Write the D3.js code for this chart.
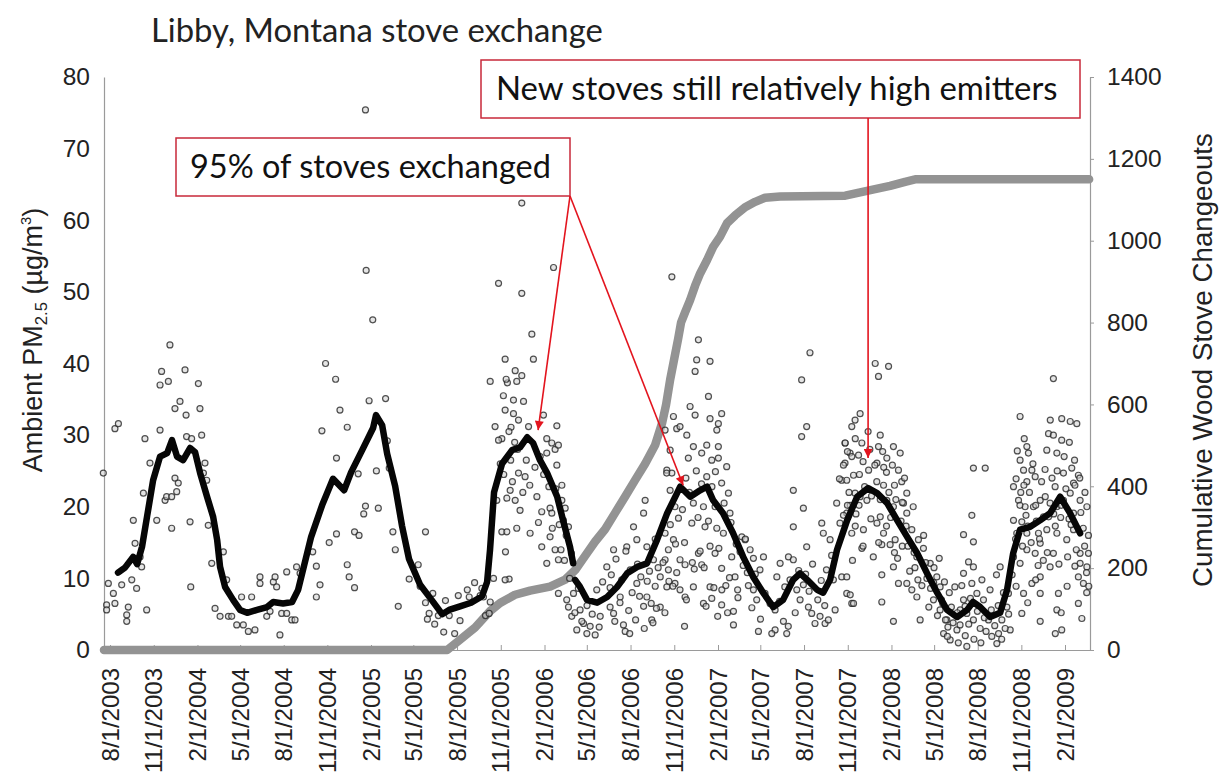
<!DOCTYPE html>
<html><head><meta charset="utf-8">
<script src="https://cdn.jsdelivr.net/npm/d3@7"></script>
<style>body{margin:0;background:#fff;} svg{display:block;}</style>
</head><body>
<svg id="chart" width="1220" height="778"></svg>
<script>
// ---------------- DATA ----------------
const chartTitle = "Libby, Montana stove exchange";
const leftAxisTitle = ["Ambient PM", "2.5", " (µg/m", "3", ")"];
const rightAxisTitle = "Cumulative Wood Stove Changeouts";
const leftTicks = [0,10,20,30,40,50,60,70,80];
const rightTicks = [0,200,400,600,800,1000,1200,1400];
const dateTickLabels = ["8/1/2003","11/1/2003","2/1/2004","5/1/2004","8/1/2004","11/1/2004",
  "2/1/2005","5/1/2005","8/1/2005","11/1/2005","2/1/2006","5/1/2006","8/1/2006","11/1/2006",
  "2/1/2007","5/1/2007","8/1/2007","11/1/2007","2/1/2008","5/1/2008","8/1/2008","11/1/2008","2/1/2009"];
const timeDomain = [2003.546, 2009.229]; // decimal years
const annotation1 = "95% of stoves exchanged";
const annotation2 = "New stoves still relatively high emitters";
// arrow targets [decimal year, PM2.5]
const arrowTargets1 = [[2006.048, 30.7], [2006.884, 23.0]];
const arrowTargets2 = [[2007.950, 26.8]];

// daily PM2.5 observations [decimal year, µg/m3]
const pmDaily = [
[2003.542,24.7],[2003.609,30.9],[2003.629,31.6],[2003.561,6.3],[2003.561,5.6],[2003.571,9.3],[2003.600,7.9],[2003.609,6.5],[2003.648,9.1],[2003.677,4.9],[2003.677,4.0],[2003.686,6.0],[2003.706,9.8],[2003.734,8.6],[2003.715,18.1],[2003.725,14.9],[2003.754,13.0],[2003.763,11.6],[2003.773,21.9],[2003.792,5.6],[2003.782,29.5],[2003.811,26.1],[2003.850,18.1],[2003.869,30.7],[2003.869,37.0],[2003.878,38.9],[2003.917,37.5],[2003.926,42.6],[2003.936,17.0],[2003.898,20.9],[2003.907,21.4],[2003.936,21.4],[2003.965,22.1],[2003.955,24.0],[2003.974,23.3],[2003.984,34.7],[2003.955,33.7],[2004.013,39.1],[2004.019,32.8],[2004.022,29.8],[2004.042,17.9],[2004.051,29.5],[2004.046,8.8],[2004.090,37.2],[2004.099,33.7],[2004.109,30.0],[2004.128,26.1],[2004.119,24.7],[2004.138,23.7],[2004.147,17.4],[2004.167,12.1],[2004.186,5.8],[2004.215,4.7],[2004.234,13.7],[2004.253,9.8],[2004.263,4.7],[2004.282,4.7],[2004.311,3.5],[2004.339,7.4],[2004.349,3.5],[2004.378,2.6],[2004.397,7.4],[2004.416,2.8],[2004.445,10.2],[2004.445,9.3],[2004.484,4.7],[2004.503,5.4],[2004.522,9.5],[2004.532,10.2],[2004.541,8.8],[2004.560,2.1],[2004.570,5.1],[2004.599,10.9],[2004.599,5.1],[2004.628,4.2],[2004.656,11.6],[2004.647,4.2],[2004.676,10.7],
[2005.053,75.4],[2005.057,53.0],[2005.095,46.1],[2004.823,40.0],[2004.881,37.8],[2004.906,33.5],[2004.802,30.6],[2004.948,31.1],[2005.074,34.8],[2005.169,35.1],[2004.886,26.8],[2005.011,24.6],[2005.116,25.0],[2005.053,20.1],[2005.043,19.0],[2005.127,19.8],[2004.886,16.2],[2004.844,15.0],[2004.990,16.5],[2005.016,16.0],[2005.179,29.2],[2005.190,25.4],[2005.211,16.5],[2005.225,14.0],[2004.749,13.7],[2004.770,11.7],[2004.791,9.1],[2004.770,7.4],[2004.948,11.9],[2004.959,10.2],[2004.990,8.7],[2005.242,6.1],[2005.399,16.5],[2005.305,9.9],[2005.357,11.9],[2005.368,8.9],[2005.399,6.6],[2005.420,5.1],[2005.441,7.9],[2005.410,4.3],[2005.452,3.6],[2005.473,4.8],[2005.504,2.5],[2005.514,6.9],[2005.536,4.8],[2005.567,2.3],[2005.588,7.6],[2005.640,8.4],[2005.651,7.4],[2005.682,9.4],[2005.714,7.6],[2005.724,8.6],[2005.745,4.8],[2005.766,5.1],[2005.598,4.1],[2005.871,37.3],[2005.892,31.1],[2005.913,29.0],[2005.860,13.7],[2005.881,9.9],
[2005.954,62.4],[2005.820,51.2],[2005.954,49.8],[2006.137,53.4],[2006.012,44.1],[2006.021,40.6],[2005.858,40.6],[2005.772,37.5],[2005.864,37.8],[2005.916,39.0],[2005.925,37.5],[2005.954,38.3],[2005.848,35.5],[2005.906,34.9],[2005.964,34.7],[2005.858,33.5],[2005.906,33.0],[2005.935,32.1],[2005.993,31.2],[2005.800,31.2],[2006.079,32.8],[2006.156,31.3],[2005.839,29.5],[2006.098,29.5],[2006.127,28.9],[2006.146,28.0],[2006.165,28.6],[2006.098,27.5],[2006.156,25.8],[2006.060,27.0],[2005.820,29.3],[2005.935,24.7],[2005.973,24.2],[2006.185,23.0],[2005.810,20.9],[2005.868,21.2],[2005.916,20.9],[2005.887,22.3],[2005.944,19.5],[2006.041,21.4],[2006.069,19.3],[2006.117,19.8],[2006.127,19.1],[2006.185,20.9],[2006.204,19.8],[2006.194,18.1],[2006.223,17.2],[2005.839,16.5],[2005.868,16.5],[2005.925,17.0],[2006.002,16.3],[2006.069,14.4],[2006.117,15.8],[2006.146,14.0],[2006.165,12.6],[2006.098,12.1],[2006.165,7.9],[2005.791,10.0],[2005.858,9.8],[2005.733,7.4],[2005.772,6.7],[2006.213,7.0],[2006.223,6.0],[2006.242,4.7],[2006.271,2.8],[2006.310,3.7],[2006.329,2.3],[2006.348,3.3],[2006.377,2.1],[2006.406,4.7],[2006.290,5.6],[2006.252,7.9],[2006.444,11.6],[2006.483,14.0],[2006.559,14.4],[2006.598,17.2],[2006.656,19.1],[2006.665,20.9],[2006.617,9.3],[2006.675,7.4],[2006.703,4.2],[2006.550,2.6],[2006.521,7.4],[2006.463,6.0],[2006.386,8.4],[2006.483,5.1],[2006.579,11.2],[2006.752,10.2],[2006.752,6.0],[2006.790,8.8],[2006.780,12.6],[2006.809,22.3],[2006.819,24.7],[2006.790,25.1],[2006.819,52.1],[2006.847,30.9],[2006.828,15.4],[2006.713,12.6],[2006.675,14.4],[2006.617,15.4],
[2006.972,43.3],[2007.039,40.3],[2006.962,40.5],[2006.953,38.9],[2007.030,35.4],[2006.924,34.0],[2006.828,32.6],[2006.780,30.7],[2006.866,31.2],[2006.953,32.8],[2007.039,32.3],[2007.106,33.0],[2007.087,31.6],[2007.078,30.7],[2006.905,30.0],[2006.943,28.4],[2007.020,28.6],[2007.087,28.4],[2006.991,27.5],[2007.049,26.5],[2007.087,26.8],[2006.789,24.7],[2006.809,27.9],[2006.914,26.8],[2007.135,25.6],[2007.020,24.2],[2007.106,23.3],[2007.145,21.9],[2007.154,19.1],[2007.068,20.0],[2007.001,20.0],[2006.943,20.5],[2006.837,20.0],[2006.857,18.4],[2006.934,17.7],[2007.010,17.2],[2007.078,17.0],[2007.116,16.3],[2007.222,15.8],[2007.241,15.4],[2006.780,16.3],[2006.799,14.0],[2006.866,12.6],[2006.895,11.9],[2006.972,13.5],[2006.991,11.9],[2007.068,13.5],[2007.106,11.4],[2007.164,13.0],[2007.212,13.7],[2007.270,14.0],[2007.289,12.8],[2007.347,13.0],[2007.327,11.2],[2007.183,10.2],[2006.799,11.2],[2006.837,9.3],[2006.866,8.4],[2006.943,8.8],[2007.039,8.8],[2006.895,7.4],[2007.049,7.2],[2007.001,6.5],[2007.106,6.3],[2007.174,5.4],[2007.174,3.5],[2007.289,8.4],[2007.308,7.0],[2007.356,7.9],[2007.385,6.5],[2007.414,5.6],[2007.414,2.8],[2007.395,2.3],[2007.462,4.0],[2007.481,2.3],[2007.318,2.6],[2007.443,12.1],[2007.424,10.2],[2007.491,13.0],[2007.500,9.8],[2007.519,22.3],[2007.567,37.7],[2007.615,41.5],[2007.567,29.8],[2007.596,31.2],[2007.577,19.8],[2007.519,17.2],[2007.596,14.4],[2007.519,12.6],[2007.539,8.4],[2007.558,7.0],[2007.577,9.1],[2007.606,6.0],[2007.625,5.1],[2007.644,3.7],[2007.673,4.7],[2007.702,3.7],[2007.721,4.2],[2007.683,17.7],[2007.692,16.3],[2007.731,15.4],[2007.750,9.8],[2007.798,10.2],[2007.827,7.9],[2007.856,6.5],[2007.769,20.5],[2007.798,23.7],[2007.817,26.1],[2007.846,27.5],[2007.856,31.2],[2007.817,28.9],[2007.788,17.7],[2007.827,19.1],[2007.875,21.9],
[2007.991,40.0],[2008.010,38.2],[2008.068,39.6],[2007.904,33.0],[2007.875,32.1],[2007.818,28.9],[2007.914,28.9],[2008.020,30.0],[2007.895,27.2],[2007.856,27.0],[2007.808,25.8],[2008.010,28.4],[2008.096,28.4],[2008.135,27.5],[2008.058,26.8],[2008.001,26.1],[2007.953,25.1],[2007.866,24.4],[2007.827,23.7],[2008.125,25.1],[2008.144,23.5],[2008.039,23.0],[2007.943,20.9],[2007.904,21.4],[2007.847,20.2],[2007.808,18.8],[2008.058,20.9],[2008.173,21.9],[2008.154,20.5],[2008.096,20.0],[2008.020,18.6],[2008.001,17.7],[2007.923,16.8],[2007.856,16.3],[2008.173,19.1],[2008.202,16.8],[2008.039,16.3],[2008.077,14.7],[2008.029,14.7],[2008.106,15.4],[2007.914,14.2],[2008.240,15.4],[2008.269,14.2],[2008.231,13.0],[2008.308,12.1],[2008.096,11.6],[2008.029,10.5],[2008.125,9.3],[2007.827,10.2],[2007.847,7.7],[2007.866,6.5],[2008.029,6.7],[2008.173,9.3],[2008.202,8.4],[2008.231,7.4],[2008.289,10.0],[2008.346,10.2],[2008.365,8.8],[2008.327,7.0],[2008.250,4.2],[2008.096,4.0],[2008.365,5.6],[2008.404,4.2],[2008.385,2.3],[2008.423,1.4],[2008.462,2.8],[2008.481,5.6],[2008.500,7.0],[2008.519,5.1],[2008.557,25.4],[2008.625,25.4],[2008.548,18.8],[2008.500,16.1],[2008.557,15.1],[2008.529,12.3],[2008.557,11.6],[2008.500,10.7],[2008.548,9.3],[2008.577,7.9],[2008.606,9.8],[2008.615,7.0],[2008.557,4.2],[2008.596,3.0],[2008.519,0.5],[2008.644,4.2],[2008.663,1.9],[2008.692,0.9],[2008.702,2.3],[2008.653,8.4],[2008.711,11.6],[2008.750,6.0],[2008.721,4.2],[2008.769,2.8],[2008.759,7.9],[2008.788,13.0],[2008.826,32.6],[2008.865,28.4],[2008.874,27.5],[2008.826,26.5],[2008.846,25.1],[2008.894,25.1],[2008.865,23.5],[2008.913,24.2],[2008.788,22.8],[2008.817,20.9],[2008.855,20.0],[2008.903,20.0],[2008.788,18.1],[2008.836,17.9],[2008.807,16.3],[2008.865,16.3],[2008.942,20.9],[2008.961,18.6],[2008.932,16.3],[2008.971,21.4],[2008.942,14.9],[2008.913,13.5],[2008.865,14.0],[2008.826,12.1],[2008.942,10.2],[2008.894,9.3],[2008.942,7.9],[2008.846,7.9],[2008.836,5.1],[2008.942,4.0],[2008.980,27.9],[2008.990,30.2],[2009.018,30.0],[2009.000,32.1],[2009.018,37.9],[2009.066,32.3],[2009.115,31.9],[2009.153,31.6],[2009.066,29.3],[2009.038,27.5],[2009.124,25.4],[2009.162,24.4],[2009.134,23.3],[2009.076,24.7],[2009.028,22.8],[2008.999,20.5],[2009.038,20.0],[2009.076,20.9],[2009.115,21.9],[2009.134,19.1],[2009.172,20.9],[2009.211,20.0],[2008.980,16.8],[2009.038,16.3],[2009.095,15.4],[2009.134,16.8],[2009.018,13.5],[2008.999,11.6],[2009.047,7.9],[2009.038,5.6],[2009.066,2.8],[2009.172,13.5],[2009.172,12.1],[2009.162,10.2],[2009.191,9.3],[2009.162,6.5],[2009.182,4.4],[2009.211,11.6],[2009.220,13.5],
[2006.554,13.8],[2006.497,12.7],[2006.463,8.7],[2006.520,6.6],[2006.576,2.3],[2006.633,7.5],[2006.677,9.6],[2006.723,8.9],[2006.656,6.1],[2006.710,3.8],[2006.621,12.0],[2006.723,15.5],[2006.768,12.2],[2006.779,5.2],[2006.802,9.6],[2006.847,10.8],[2006.903,7.0],[2006.948,11.3],[2007.005,11.5],[2007.016,6.1],[2007.061,8.7],[2007.107,8.4],[2007.151,10.1],[2007.140,5.2],[2007.198,8.4],[2007.243,15.5],[2007.254,10.8],[2006.937,12.2],[2006.982,13.8],[2006.892,15.0],[2007.039,14.5],[2006.825,8.9],[2007.083,4.7],[2006.892,3.3],
[2007.831,27.7],[2007.876,29.5],[2007.921,26.3],[2007.989,25.8],[2008.034,27.7],[2008.056,24.8],[2008.102,23.0],[2008.147,20.6],[2007.898,20.2],[2007.966,18.3],[2008.056,17.3],[2007.876,17.3],[2007.831,20.2],[2007.785,23.9],[2008.169,17.3],[2008.147,14.5],[2008.102,13.6],[2008.011,15.0],[2007.921,14.5],[2008.215,13.6],[2008.282,12.2],[2008.237,9.8],[2008.328,9.4],[2008.373,7.0],[2008.418,8.0],[2008.464,5.2],[2008.396,4.2],[2008.509,6.1],[2008.407,1.9],
[2008.803,23.9],[2008.848,23.0],[2008.825,20.2],[2008.870,17.3],[2008.916,20.2],[2008.938,15.5],[2008.983,13.6],[2009.029,17.3],[2009.063,20.2],[2009.108,18.3],[2009.142,23.0],[2009.176,19.2],[2009.198,14.5],[2009.209,10.8],[2009.222,8.9],[2009.142,11.7],[2009.097,8.9],[2009.063,5.2],[2008.916,9.8],[2008.870,6.6],[2008.803,8.9],[2009.029,2.3],
[2006.47,10.5],[2006.49,4.0],[2006.53,9.8],[2006.54,3.5],[2006.57,5.5],[2006.59,8.0],[2006.61,4.2],[2006.64,10.2],[2006.66,3.0],[2006.69,11.0],[2006.70,6.5],[2006.73,5.8],[2006.74,11.5],[2006.42,9.5],[2006.40,3.2],[2006.36,5.0],[2006.33,6.2],[2006.30,4.0],[2006.28,8.6],[2006.26,5.2],
[2006.81,17.5],[2006.84,14.8],[2006.87,22.5],[2006.88,19.6],[2006.90,24.0],[2006.92,22.0],[2006.96,25.0],[2006.97,18.5],[2006.99,23.2],[2007.03,18.0],[2007.05,22.8],[2007.07,24.9],[2007.09,14.2],[2007.12,20.5],[2007.13,9.0],[2007.16,17.8],[2007.19,14.8],[2007.20,7.3],[2007.23,11.8],[2007.26,9.0],[2007.28,5.9],[2007.30,10.6],[2007.33,4.3],
[2007.44,6.8],[2007.47,8.8],[2007.49,3.3],[2007.53,5.2],[2007.55,11.1],[2007.59,10.6],[2007.61,8.2],[2007.63,12.0],[2007.66,7.0],[2007.68,9.7],[2007.70,6.2],[2007.71,11.2],[2007.74,13.2],[2007.76,5.6],
[2007.84,22.0],[2007.86,12.5],[2007.88,19.0],[2007.90,24.5],[2007.93,22.8],[2007.95,30.5],[2007.96,28.0],[2007.97,21.5],[2007.98,13.0],[2008.00,23.5],[2008.02,21.0],[2008.04,25.5],[2008.07,22.0],[2008.08,18.5],[2008.09,25.8],[2008.11,21.0],[2008.12,12.8],[2008.14,18.0],[2008.16,24.0],[2008.18,14.5],[2008.19,11.0],[2008.21,20.0],[2008.22,11.5],[2008.26,9.0],[2008.27,16.0],[2008.30,6.0],[2008.31,8.6],[2008.33,11.5],[2008.35,4.8],[2008.36,12.8],[2008.38,6.5],[2008.39,9.5],[2008.41,3.2],[2008.43,6.0],[2008.44,3.8],[2008.45,8.8],[2008.47,1.0],[2008.48,3.5],[2008.49,9.0],[2008.51,2.0],[2008.53,3.6],[2008.54,7.2],[2008.56,1.5],[2008.58,5.4],[2008.60,1.0],[2008.62,4.5],[2008.63,2.6],[2008.66,5.6],[2008.68,3.4],[2008.69,10.5],[2008.70,6.2],[2008.72,1.5],[2008.73,8.0],[2008.74,3.0],[2008.76,5.0],[2008.78,10.5],
[2008.80,15.5],[2008.81,27.8],[2008.83,22.0],[2008.84,14.5],[2008.85,29.5],[2008.86,18.8],[2008.88,22.0],[2008.89,15.0],[2008.90,26.0],[2008.92,18.0],[2008.93,11.8],[2008.95,23.5],[2008.96,12.5],[2008.97,25.2],[2008.99,18.6],[2009.01,24.0],[2009.02,19.0],[2009.04,25.0],[2009.05,12.0],[2009.06,18.5],[2009.08,27.0],[2009.09,22.5],[2009.10,13.0],[2009.11,29.0],[2009.12,17.5],[2009.14,26.5],[2009.15,14.0],[2009.17,24.0],[2009.19,17.0],[2009.20,22.0],[2009.21,8.0],[2009.22,16.0],
[2005.83,26.0],[2005.85,24.5],[2005.88,30.5],[2005.89,26.5],[2005.90,23.5],[2005.93,28.0],[2005.96,22.0],[2005.98,26.5],[2006.00,23.0],[2006.03,25.5],[2006.05,17.8],[2006.08,24.5],[2006.11,22.8],[2006.13,17.0],[2006.15,22.5],[2006.17,17.5],[2006.18,14.0],[2006.20,12.5],[2006.21,16.0],[2006.23,10.0],[2006.24,13.5]
];

// running mean of PM2.5 (two segments, gap between) [decimal year, µg/m3]
const pmMeanSeg1 = [[2003.627,10.8],[2003.667,11.5],[2003.714,13.0],[2003.737,12.0],[2003.765,14.4],[2003.794,18.6],[2003.829,23.7],[2003.869,27.0],[2003.910,27.5],[2003.938,29.3],[2003.967,27.0],[2004.002,26.5],[2004.042,28.2],[2004.071,27.6],[2004.100,24.7],[2004.140,21.4],[2004.175,18.6],[2004.198,15.4],[2004.215,11.6],[2004.244,8.8],[2004.290,7.0],[2004.330,5.6],[2004.371,5.2],[2004.428,5.6],[2004.486,6.0],[2004.521,6.7],[2004.578,6.5],[2004.630,6.7],[2004.665,8.4],[2004.740,15.8],[2004.803,20.2],[2004.866,23.9],[2004.930,22.3],[2004.970,24.8],[2005.034,27.9],[2005.097,31.0],[2005.114,32.8],[2005.149,31.4],[2005.178,27.4],[2005.224,22.9],[2005.264,17.3],[2005.304,12.7],[2005.368,9.1],[2005.431,7.1],[2005.495,5.0],[2005.535,5.6],[2005.598,6.1],[2005.662,6.6],[2005.725,7.5],[2005.754,9.5],[2005.771,14.0],[2005.794,22.0],[2005.840,26.0],[2005.898,27.9],[2005.944,28.3],[2005.985,29.7],[2006.019,28.9],[2006.059,26.5],[2006.100,24.7],[2006.158,21.4],[2006.192,18.1],[2006.232,14.4],[2006.250,12.1]];
const pmMeanSeg2 = [[2006.261,9.8],[2006.290,8.8],[2006.330,7.0],[2006.388,6.6],[2006.446,7.4],[2006.503,8.8],[2006.561,10.7],[2006.619,11.6],[2006.676,12.1],[2006.734,15.4],[2006.792,19.1],[2006.849,21.9],[2006.867,22.8],[2006.925,21.4],[2006.982,22.3],[2007.022,22.8],[2007.057,20.9],[2007.114,19.1],[2007.172,16.3],[2007.230,13.0],[2007.288,10.2],[2007.345,8.0],[2007.403,6.0],[2007.460,7.0],[2007.518,9.8],[2007.558,10.7],[2007.599,9.8],[2007.656,8.4],[2007.691,8.0],[2007.731,9.8],[2007.771,14.0],[2007.829,18.1],[2007.887,21.4],[2007.950,22.6],[2008.002,21.9],[2008.060,20.5],[2008.118,18.1],[2008.175,15.8],[2008.233,13.5],[2008.290,10.7],[2008.348,8.0],[2008.405,5.6],[2008.463,4.6],[2008.521,5.6],[2008.555,6.7],[2008.596,6.0],[2008.653,4.6],[2008.711,5.2],[2008.751,8.4],[2008.786,13.5],[2008.826,16.8],[2008.884,17.2],[2008.941,18.1],[2008.999,19.1],[2009.057,21.4],[2009.114,19.1],[2009.172,16.3]];

// cumulative wood stove changeouts [decimal year, count]
const changeouts = [[2003.546,0],[2005.524,0],[2005.598,25],[2005.685,55],[2005.771,95],[2005.829,115],[2005.915,135],[2006.002,145],[2006.117,155],[2006.204,172],[2006.261,195],[2006.319,230],[2006.377,265],[2006.434,295],[2006.492,335],[2006.550,375],[2006.607,415],[2006.665,455],[2006.722,500],[2006.763,555],[2006.786,600],[2006.809,660],[2006.832,710],[2006.855,760],[2006.872,800],[2006.895,825],[2006.924,855],[2006.953,890],[2006.982,920],[2007.022,953],[2007.057,985],[2007.097,1010],[2007.137,1043],[2007.184,1062],[2007.241,1082],[2007.299,1095],[2007.356,1105],[2007.443,1108],[2007.818,1110],[2007.904,1118],[2007.990,1126],[2008.077,1134],[2008.163,1144],[2008.221,1150],[2009.224,1150]];

// ---------------- CHART ----------------
const svg = d3.select("#chart");
const M = {left:104, right:1090, top:77, bottom:650};
const x = d3.scaleLinear().domain(timeDomain).range([M.left, M.right]);
const yL = d3.scaleLinear().domain([0,80]).range([M.bottom, M.top]);
const yR = d3.scaleLinear().domain([0,1400]).range([M.bottom, M.top]);
const AX = "Liberation Sans, Arial, Helvetica, sans-serif";
const TXT = "Lato, 'Open Sans', sans-serif";

function decYear(s){
  const [m,d,y] = s.split("/").map(Number);
  const start = Date.UTC(y,0,1), end = Date.UTC(y+1,0,1);
  return y + (Date.UTC(y,m-1,d)-start)/(end-start);
}
const tickYears = dateTickLabels.map(decYear);

// axes
const gL = svg.append("g").attr("transform",`translate(${M.left},0)`)
  .call(d3.axisLeft(yL).tickValues(leftTicks).tickSize(0).tickPadding(14));
const gR = svg.append("g").attr("transform",`translate(${M.right},0)`)
  .call(d3.axisRight(yR).tickValues(rightTicks).tickFormat(d3.format("d"))
    .tickSizeInner(4).tickSizeOuter(0).tickPadding(13));
const gB = svg.append("g").attr("transform",`translate(0,${M.bottom})`)
  .call(d3.axisBottom(x).tickValues(tickYears).tickSizeInner(-5).tickSizeOuter(0).tickFormat(""));
[gL,gR,gB].forEach(g=>{
  g.select(".domain").attr("stroke","#9a9a9a").attr("stroke-width",1.2);
  g.selectAll(".tick line").attr("stroke","#9a9a9a");
  g.selectAll("text").attr("font-family",AX).attr("font-size",24.5).attr("fill","#222");
});
gB.selectAll("text").remove();
svg.append("g").selectAll("text").data(dateTickLabels).join("text")
  .attr("transform",(d,i)=>`translate(${x(tickYears[i])},668) rotate(-90)`)
  .attr("text-anchor","end").attr("dy","0.36em")
  .attr("font-family",AX).attr("font-size",24).attr("fill","#222")
  .text(d=>d);

// cumulative changeouts (gray)
svg.append("path").datum(changeouts)
  .attr("d", d3.line().x(d=>x(d[0])).y(d=>yR(d[1])))
  .attr("fill","none").attr("stroke","#939393").attr("stroke-width",8.5)
  .attr("stroke-linecap","round").attr("stroke-linejoin","round");

// daily points
svg.append("g").selectAll("circle").data(pmDaily).join("circle")
  .attr("cx",d=>x(d[0])).attr("cy",d=>yL(d[1])).attr("r",3)
  .attr("fill","#cfcfcf").attr("fill-opacity",0.55)
  .attr("stroke","#262626").attr("stroke-opacity",0.8).attr("stroke-width",1.2);

// running mean (black)
const meanLine = d3.line().x(d=>x(d[0])).y(d=>yL(d[1]));
svg.append("g").selectAll("path").data([pmMeanSeg1, pmMeanSeg2]).join("path")
  .attr("d", meanLine).attr("fill","none").attr("stroke","#060606")
  .attr("stroke-width",6.5).attr("stroke-linejoin","round").attr("stroke-linecap","round");

// fit helper
function fit(sel, w){
  const len = sel.node().getComputedTextLength();
  sel.attr("font-size", parseFloat(sel.attr("font-size"))*w/len);
}

// title
fit(svg.append("text").attr("x",151).attr("y",42).attr("font-family",TXT)
  .attr("font-size",28).attr("fill","#222").text(chartTitle), 452);

// axis titles
const lt = svg.append("text").attr("transform","translate(42,340) rotate(-90)")
  .attr("text-anchor","middle").attr("font-family",AX).attr("font-size",27).attr("fill","#222");
lt.append("tspan").text(leftAxisTitle[0]);
lt.append("tspan").attr("font-size","62%").attr("dy",5).text(leftAxisTitle[1]);
lt.append("tspan").attr("dy",-5).text(leftAxisTitle[2]);
lt.append("tspan").attr("font-size","55%").attr("dy",-11).text(leftAxisTitle[3]);
lt.append("tspan").attr("dy",11).text(leftAxisTitle[4]);
fit(svg.append("text").attr("transform","translate(1212,360) rotate(-90)")
  .attr("text-anchor","middle").attr("font-family",AX).attr("font-size",27).attr("fill","#222")
  .text(rightAxisTitle), 454);

// annotations
const RED = "#e3141e";
svg.append("defs").append("marker").attr("id","ah").attr("viewBox","0 0 10 10")
  .attr("refX",10).attr("refY",5).attr("markerWidth",10).attr("markerHeight",9)
  .attr("markerUnits","userSpaceOnUse").attr("orient","auto")
  .append("path").attr("d","M0,0L10,5L0,10z").attr("fill",RED);

const box1 = {x:176,y:138,w:394,h:58}, box2 = {x:481,y:60,w:599,h:58};
[[box1, annotation1, 190, 178, 361],[box2, annotation2, 496, 100, 562]].forEach(([b,t,tx,ty,tw])=>{
  svg.append("rect").attr("x",b.x).attr("y",b.y).attr("width",b.w).attr("height",b.h)
    .attr("fill","#fff").attr("stroke","#c8283a").attr("stroke-width",1.5);
  fit(svg.append("text").attr("x",tx).attr("y",ty).attr("font-family",TXT)
    .attr("font-size",26).attr("fill","#111").text(t), tw);
});
const arrows = arrowTargets1.map(t=>({x1:box1.x+box1.w, y1:box1.y+box1.h, t}))
  .concat(arrowTargets2.map(t=>({x1:x(t[0]), y1:box2.y+box2.h, t})));
svg.append("g").selectAll("line").data(arrows).join("line")
  .attr("x1",d=>d.x1).attr("y1",d=>d.y1)
  .attr("x2",d=>x(d.t[0])).attr("y2",d=>yL(d.t[1]))
  .attr("stroke",RED).attr("stroke-width",1.6).attr("marker-end","url(#ah)");
</script>
</body></html>
